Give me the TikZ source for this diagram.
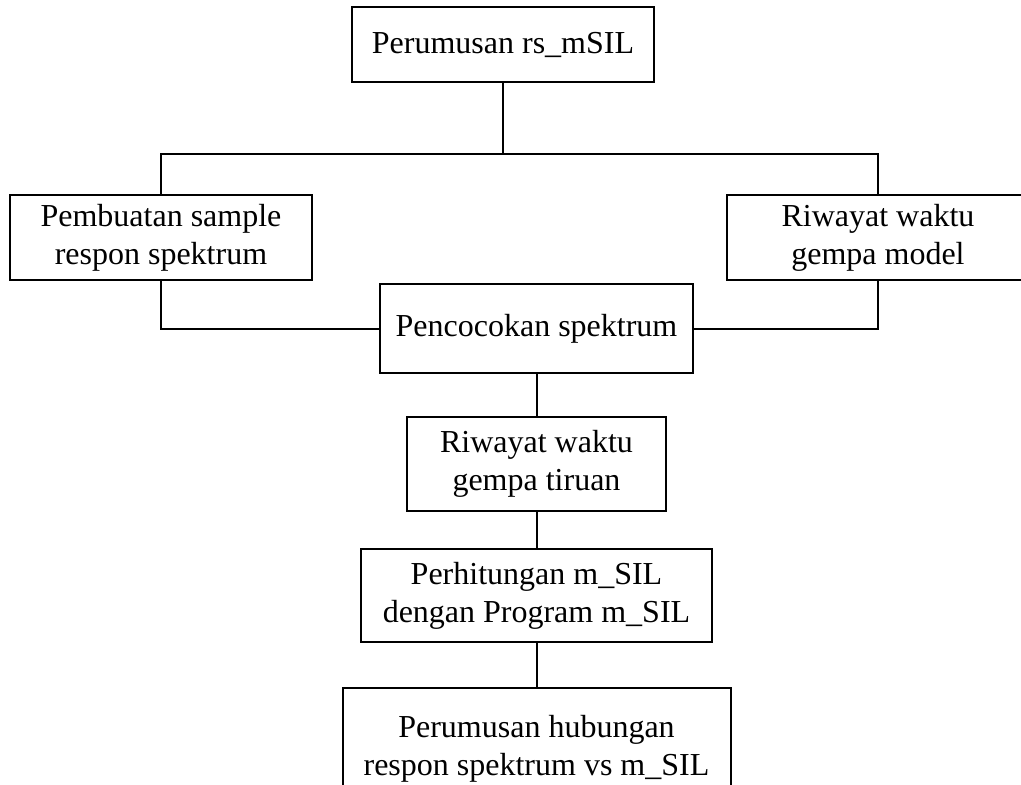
\documentclass[tikz,border=0pt]{standalone}
\usepackage{fontspec}
\setmainfont{Liberation Serif}
\begin{document}
\begin{tikzpicture}[x=1pt,y=-1pt,
  box/.style={draw=black,line width=2pt,fill=white,align=center,inner sep=0pt,
    font=\fontsize{32}{38}\selectfont},
  conn/.style={draw=black,line width=2pt}]
\useasboundingbox (0,0) rectangle (1021,785);
\clip (0,0) rectangle (1021,785);
\fill[white] (0,0) rectangle (1021,785);
\node[box,minimum width=302pt,minimum height=75pt] (b1) at (503,44.5) {Perumusan rs\_mSIL};
\node[box,minimum width=302pt,minimum height=85pt] (b2) at (161,237.5) {Pembuatan sample\\respon spektrum};
\node[box,minimum width=302pt,minimum height=85pt] (b3) at (878,237.5) {Riwayat waktu\\gempa model};
\node[box,minimum width=313pt,minimum height=89pt] (b4) at (536.5,328.5) {Pencocokan spektrum};
\node[box,minimum width=259pt,minimum height=94pt] (b5) at (536.5,464) {Riwayat waktu\\gempa tiruan};
\node[box,minimum width=351pt,minimum height=93pt] (b6) at (536.5,595.5) {Perhitungan m\_SIL\\dengan Program m\_SIL};
\node[box,minimum width=388pt,minimum height=122pt] (b7) at (536.5,749) {Perumusan hubungan\\respon spektrum vs m\_SIL};
\coordinate (j) at (503,154);
\draw[conn] (b1.south) -- (j);
\draw[conn] (b2.north) |- (j);
\draw[conn] (b3.north) |- (j);
\draw[conn] (b2.south) |- (b4.west);
\draw[conn] (b3.south) |- (b4.east);
\draw[conn] (b4.south) -- (b5.north);
\draw[conn] (b5.south) -- (b6.north);
\draw[conn] (b6.south) -- (b7.north);
\end{tikzpicture}
\end{document}
